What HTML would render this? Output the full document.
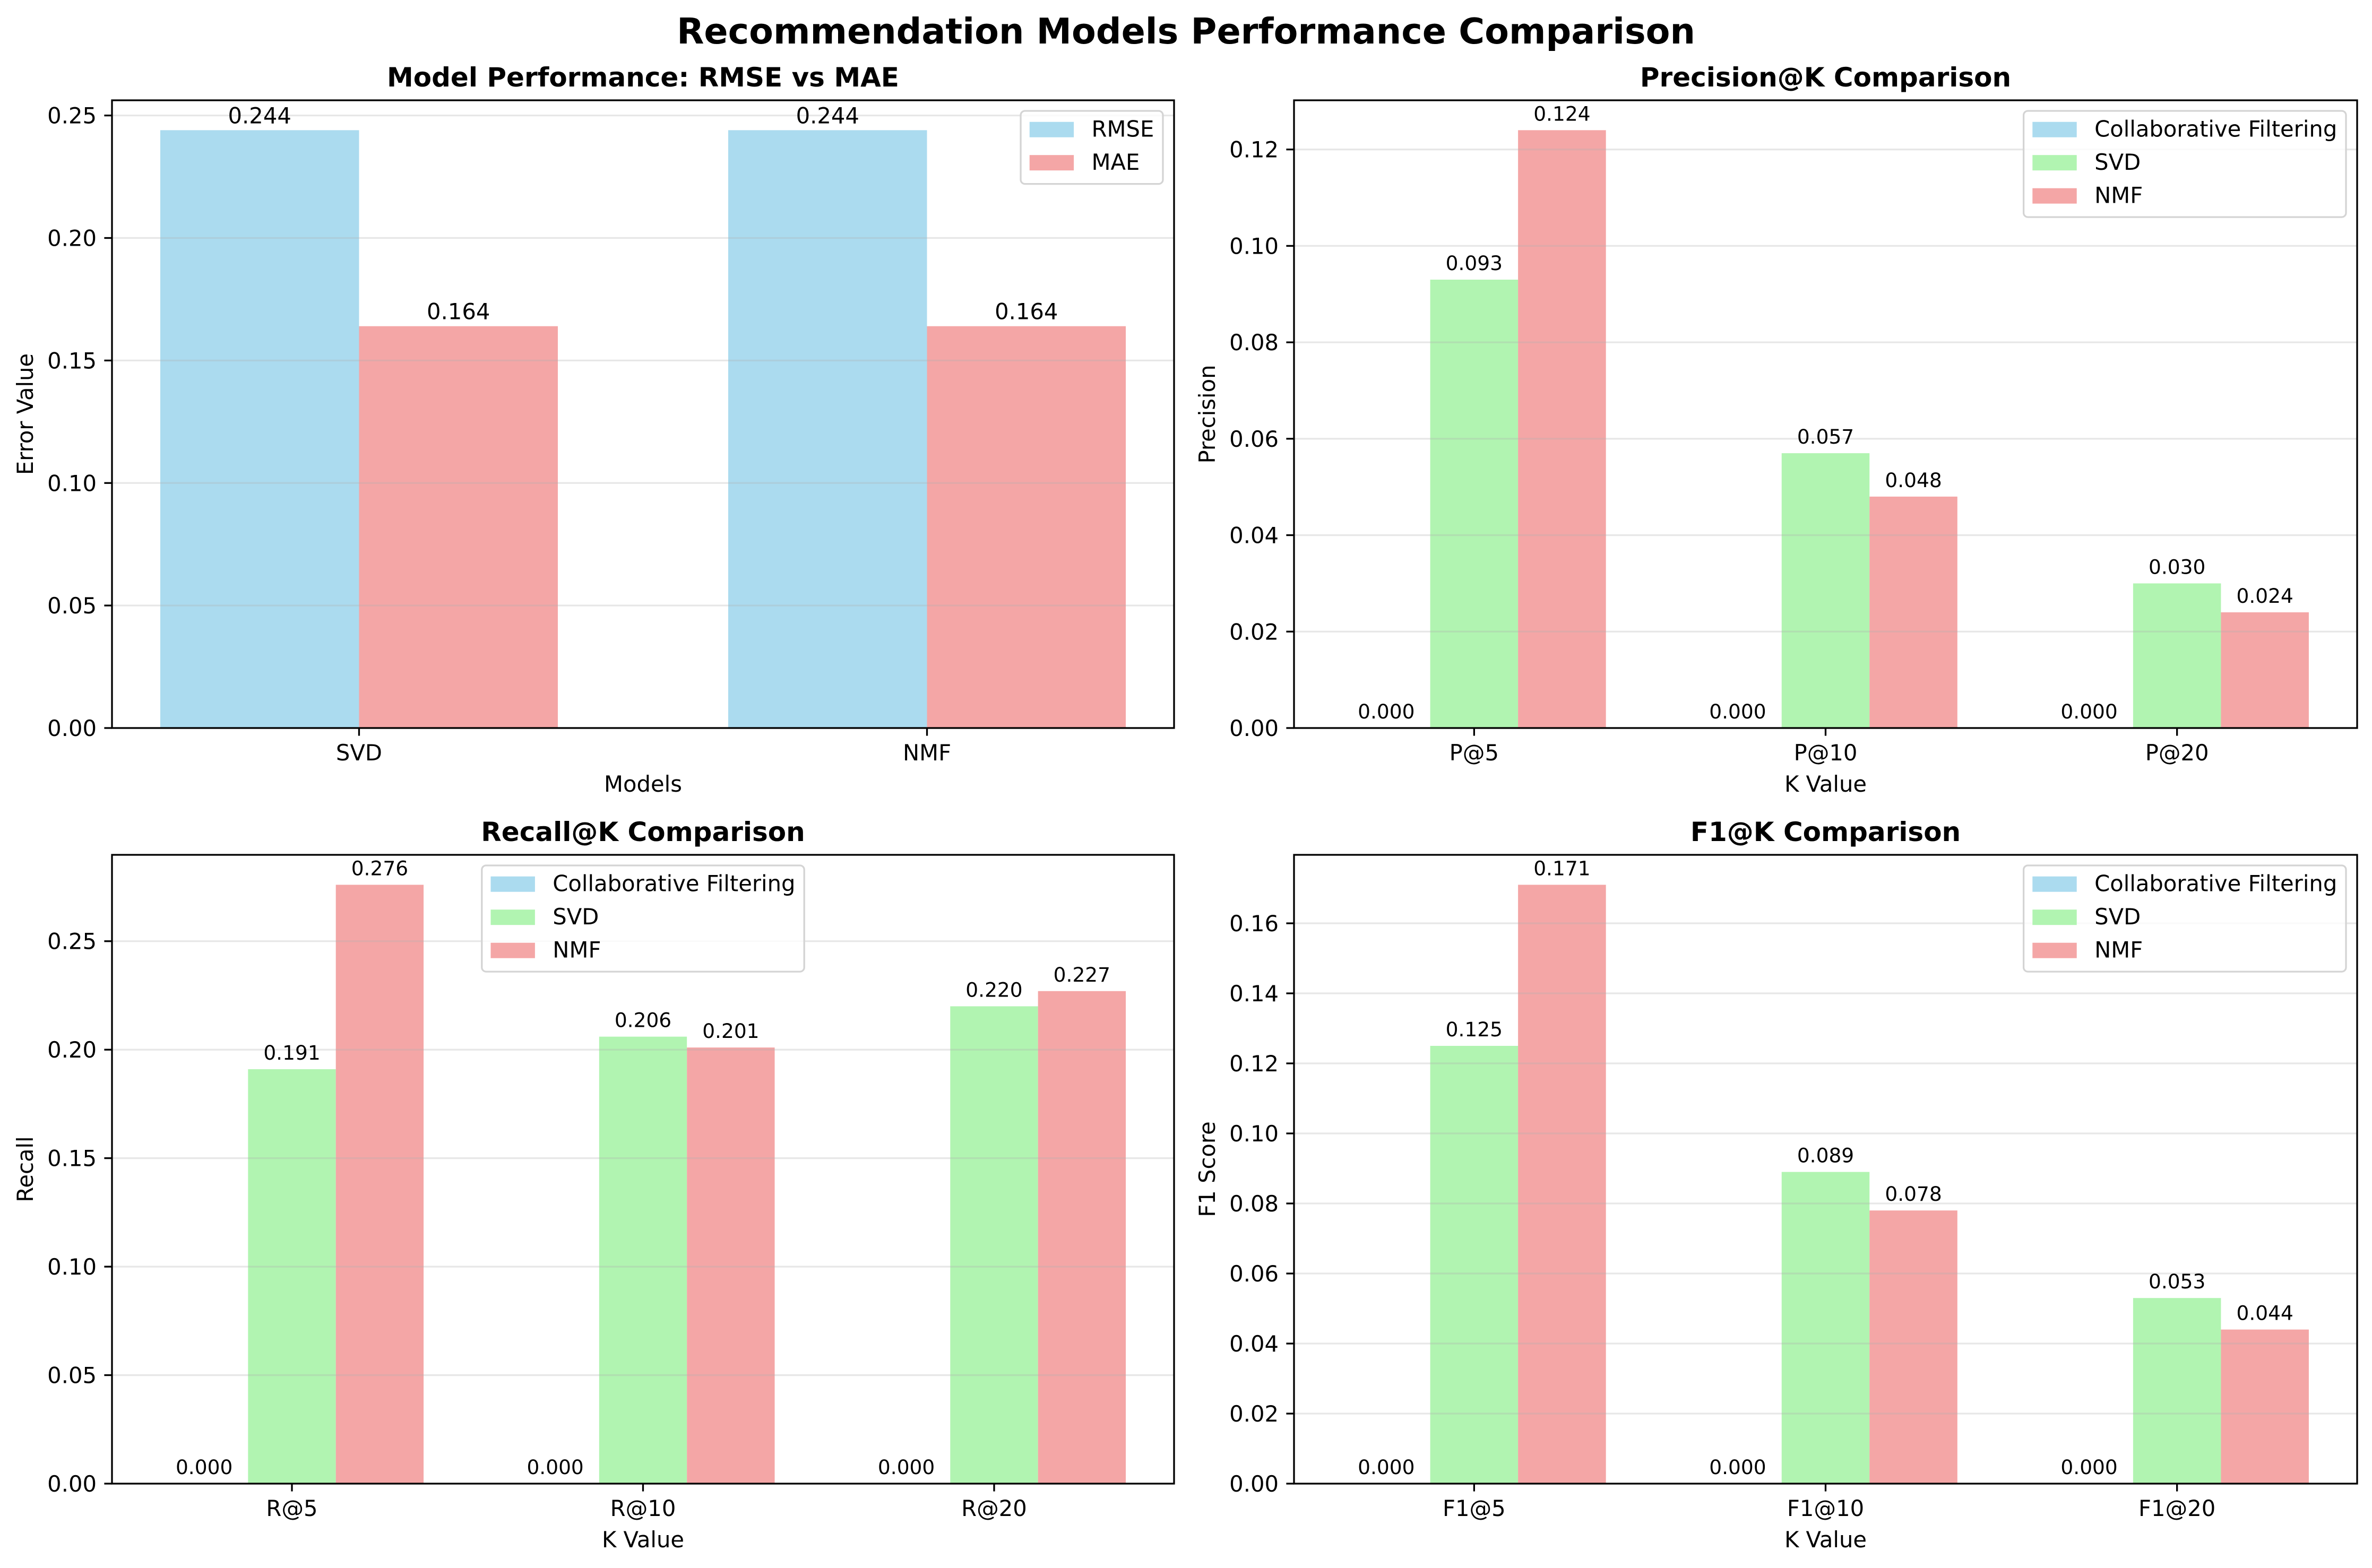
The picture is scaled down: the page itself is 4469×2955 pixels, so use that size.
<!DOCTYPE html>
<html><head><meta charset="utf-8">
<style>
html,body{margin:0;padding:0;background:#fff;}
svg{display:block;font-family:"DejaVu Sans","Liberation Sans",sans-serif;}
</style></head>
<body>
<svg id="fig" xmlns="http://www.w3.org/2000/svg" width="4469" height="2955" viewBox="0 0 4469 2955">
<rect x="0" y="0" width="4469" height="2955" fill="#fff"/>
<text x="2234.5" y="82" text-anchor="middle" font-size="66.7" font-weight="bold">Recommendation Models Performance Comparison</text>
</svg>
<script>
// ---- data ----
const errCategories = ["SVD", "NMF"];
const rmseValues = [0.244, 0.244];
const maeValues = [0.164, 0.164];
const errTicks = [0, 0.05, 0.10, 0.15, 0.20, 0.25];

const precCategories = ["P@5", "P@10", "P@20"];
const precCF = [0, 0, 0];
const precSVD = [0.093, 0.057, 0.030];
const precNMF = [0.124, 0.048, 0.024];
const precTicks = [0, 0.02, 0.04, 0.06, 0.08, 0.10, 0.12];

const recCategories = ["R@5", "R@10", "R@20"];
const recCF = [0, 0, 0];
const recSVD = [0.191, 0.206, 0.220];
const recNMF = [0.276, 0.201, 0.227];
const recTicks = [0, 0.05, 0.10, 0.15, 0.20, 0.25];

const f1Categories = ["F1@5", "F1@10", "F1@20"];
const f1CF = [0, 0, 0];
const f1SVD = [0.125, 0.089, 0.053];
const f1NMF = [0.171, 0.078, 0.044];
const f1Ticks = [0, 0.02, 0.04, 0.06, 0.08, 0.10, 0.12, 0.14, 0.16];

const C_BLUE = "#abdbef", C_GREEN = "#b1f4b1", C_RED = "#f4a6a6";
const NS = "http://www.w3.org/2000/svg";
const svg = document.getElementById("fig");

function mk(tag, attrs, parent, text) {
  const e = document.createElementNS(NS, tag);
  for (const k in attrs) e.setAttribute(k, attrs[k]);
  if (text !== undefined) e.textContent = text;
  (parent || svg).appendChild(e);
  return e;
}

function drawPanel(cfg) {
  const g = mk("g", {});
  
  
  const L = cfg.box[0], T = cfg.box[1], R = cfg.box[2], B = cfg.box[3];
  const n = cfg.categories.length, ns = cfg.series.length, w = cfg.barWidth;
  const offs = cfg.series.map((s, i) => (i - (ns - 1) / 2) * w);
  const dmin = offs[0] - w / 2, dmax = (n - 1) + offs[ns - 1] + w / 2;
  const m = (dmax - dmin) * 0.05;
  const x0 = dmin - m, x1 = dmax + m;
  let maxV = 0;
  cfg.series.forEach(s => s.values.forEach(v => { if (v > maxV) maxV = v; }));
  const ymax = maxV * 1.05;
  const xs = v => L + (v - x0) / (x1 - x0) * (R - L);
  const ys = v => B - v / ymax * (B - T);

  // bars
  cfg.series.forEach((s, si) => {
    s.values.forEach((v, ci) => {
      const bx = xs(ci + offs[si] - w / 2), bw = xs(ci + offs[si] + w / 2) - bx;
      const r = mk("rect", {x: bx, y: ys(v), width: bw, height: B - ys(v), fill: s.color}, g);
      
      
    });
  });
  // grid
  cfg.ticks.forEach(t => {
    const l = mk("line", {x1: L, x2: R, y1: ys(t), y2: ys(t), stroke: "rgba(176,176,176,0.3)", "stroke-width": 3.3}, g);
    
    
  });
  // value labels
  cfg.series.forEach((s, si) => {
    s.values.forEach((v, ci) => {
      const tx = mk("text", {x: xs(ci + offs[si]), y: ys(v) - cfg.labelGap, "text-anchor": "middle", "font-size": cfg.labelSize}, g, v.toFixed(3));
      
      
    });
  });
  // spines
  const sp = mk("rect", {x: L, y: T, width: R - L, height: B - T, fill: "none", stroke: "#000", "stroke-width": 3.3}, g);
  
  
  // y ticks
  cfg.ticks.forEach(t => {
    const y = ys(t);
    mk("line", {x1: L - 14.6, x2: L, y1: y, y2: y, stroke: "#000", "stroke-width": 3.3}, g);
    const tl = mk("text", {x: L - 29, y: y + 15, "text-anchor": "end", "font-size": 41.7}, g, t.toFixed(2));
    
    
  });
  // x ticks
  cfg.categories.forEach((c, ci) => {
    const x = xs(ci);
    mk("line", {x1: x, x2: x, y1: B, y2: B + 14.6, stroke: "#000", "stroke-width": 3.3}, g);
    const tl = mk("text", {x: x, y: B + 61, "text-anchor": "middle", "font-size": 41.7}, g, c);
    
    
  });
  // axis labels
  const xl = mk("text", {x: (L + R) / 2, y: B + 120, "text-anchor": "middle", "font-size": 41.7}, g, cfg.xlabel);
  
  
  const yl = mk("text", {x: 0, y: 0, "text-anchor": "middle", "font-size": 41.7, transform: "translate(" + cfg.ylabelX + "," + (T + B) / 2 + ") rotate(-90)"}, g, cfg.ylabel);
  
  
  const ti = mk("text", {x: (L + R) / 2, y: T - 26, "text-anchor": "middle", "font-size": 50, "font-weight": "bold"}, g, cfg.title);
  
  

  // legend
  const fs = 41.7, pad = 16.7, hl = 83.4, htp = 33.4, rowH = 62.5;
  const lg = mk("g", {}, g);
  
  
  const texts = [];
  let maxW = 0;
  cfg.series.forEach((s, i) => {
    const t = mk("text", {x: 0, y: 0, "font-size": fs}, lg, s.label);
    
    
    texts.push(t);
    maxW = Math.max(maxW, t.getComputedTextLength());
  });
  const lw = pad * 2 + hl + htp + maxW;
  const lh = pad * 2 + ns * fs + (ns - 1) * (rowH - fs);
  let lx;
  if (cfg.legendPos === "upper center") lx = (L + R) / 2 - lw / 2;
  else lx = R - 21 - lw;
  const ly = T + 20;
  const box = mk("rect", {x: lx, y: ly, width: lw, height: lh, rx: 8, fill: "rgba(255,255,255,0.8)", stroke: "#d4d4d4", "stroke-width": 3.3}, lg);
  lg.insertBefore(box, lg.firstChild);
  cfg.series.forEach((s, i) => {
    const rowTop = ly + pad + i * rowH;
    const p = mk("rect", {x: lx + pad, y: rowTop + 4, width: hl, height: 29, fill: s.color}, lg);
    
    
    texts[i].setAttribute("x", lx + pad + hl + htp);
    texts[i].setAttribute("y", rowTop + 32);
  });
}

const colL = [211, 2212], colR = [2438, 4441], rowT = [189, 1372], rowB = [1611, 2796];

drawPanel({name: "rmse-mae-panel", box: [colL[0], rowT[0], colL[1], rowT[1]], categories: errCategories,
  series: [{label: "RMSE", values: rmseValues, color: C_BLUE}, {label: "MAE", values: maeValues, color: C_RED}],
  barWidth: 0.35, ticks: errTicks, labelSize: 41.7, labelGap: 13, xlabel: "Models", ylabel: "Error Value",
  ylabelX: 62, title: "Model Performance: RMSE vs MAE", legendPos: "upper right"});

drawPanel({name: "precision-panel", box: [colR[0], rowT[0], colR[1], rowT[1]], categories: precCategories,
  series: [{label: "Collaborative Filtering", values: precCF, color: C_BLUE}, {label: "SVD", values: precSVD, color: C_GREEN}, {label: "NMF", values: precNMF, color: C_RED}],
  barWidth: 0.25, ticks: precTicks, labelSize: 37.5, labelGap: 18, xlabel: "K Value", ylabel: "Precision",
  ylabelX: 2289, title: "Precision@K Comparison", legendPos: "upper right"});

drawPanel({name: "recall-panel", box: [colL[0], rowB[0], colL[1], rowB[1]], categories: recCategories,
  series: [{label: "Collaborative Filtering", values: recCF, color: C_BLUE}, {label: "SVD", values: recSVD, color: C_GREEN}, {label: "NMF", values: recNMF, color: C_RED}],
  barWidth: 0.25, ticks: recTicks, labelSize: 37.5, labelGap: 18, xlabel: "K Value", ylabel: "Recall",
  ylabelX: 62, title: "Recall@K Comparison", legendPos: "upper center"});

drawPanel({name: "f1-panel", box: [colR[0], rowB[0], colR[1], rowB[1]], categories: f1Categories,
  series: [{label: "Collaborative Filtering", values: f1CF, color: C_BLUE}, {label: "SVD", values: f1SVD, color: C_GREEN}, {label: "NMF", values: f1NMF, color: C_RED}],
  barWidth: 0.25, ticks: f1Ticks, labelSize: 37.5, labelGap: 18, xlabel: "K Value", ylabel: "F1 Score",
  ylabelX: 2289, title: "F1@K Comparison", legendPos: "upper right"});
</script>
</body></html>
